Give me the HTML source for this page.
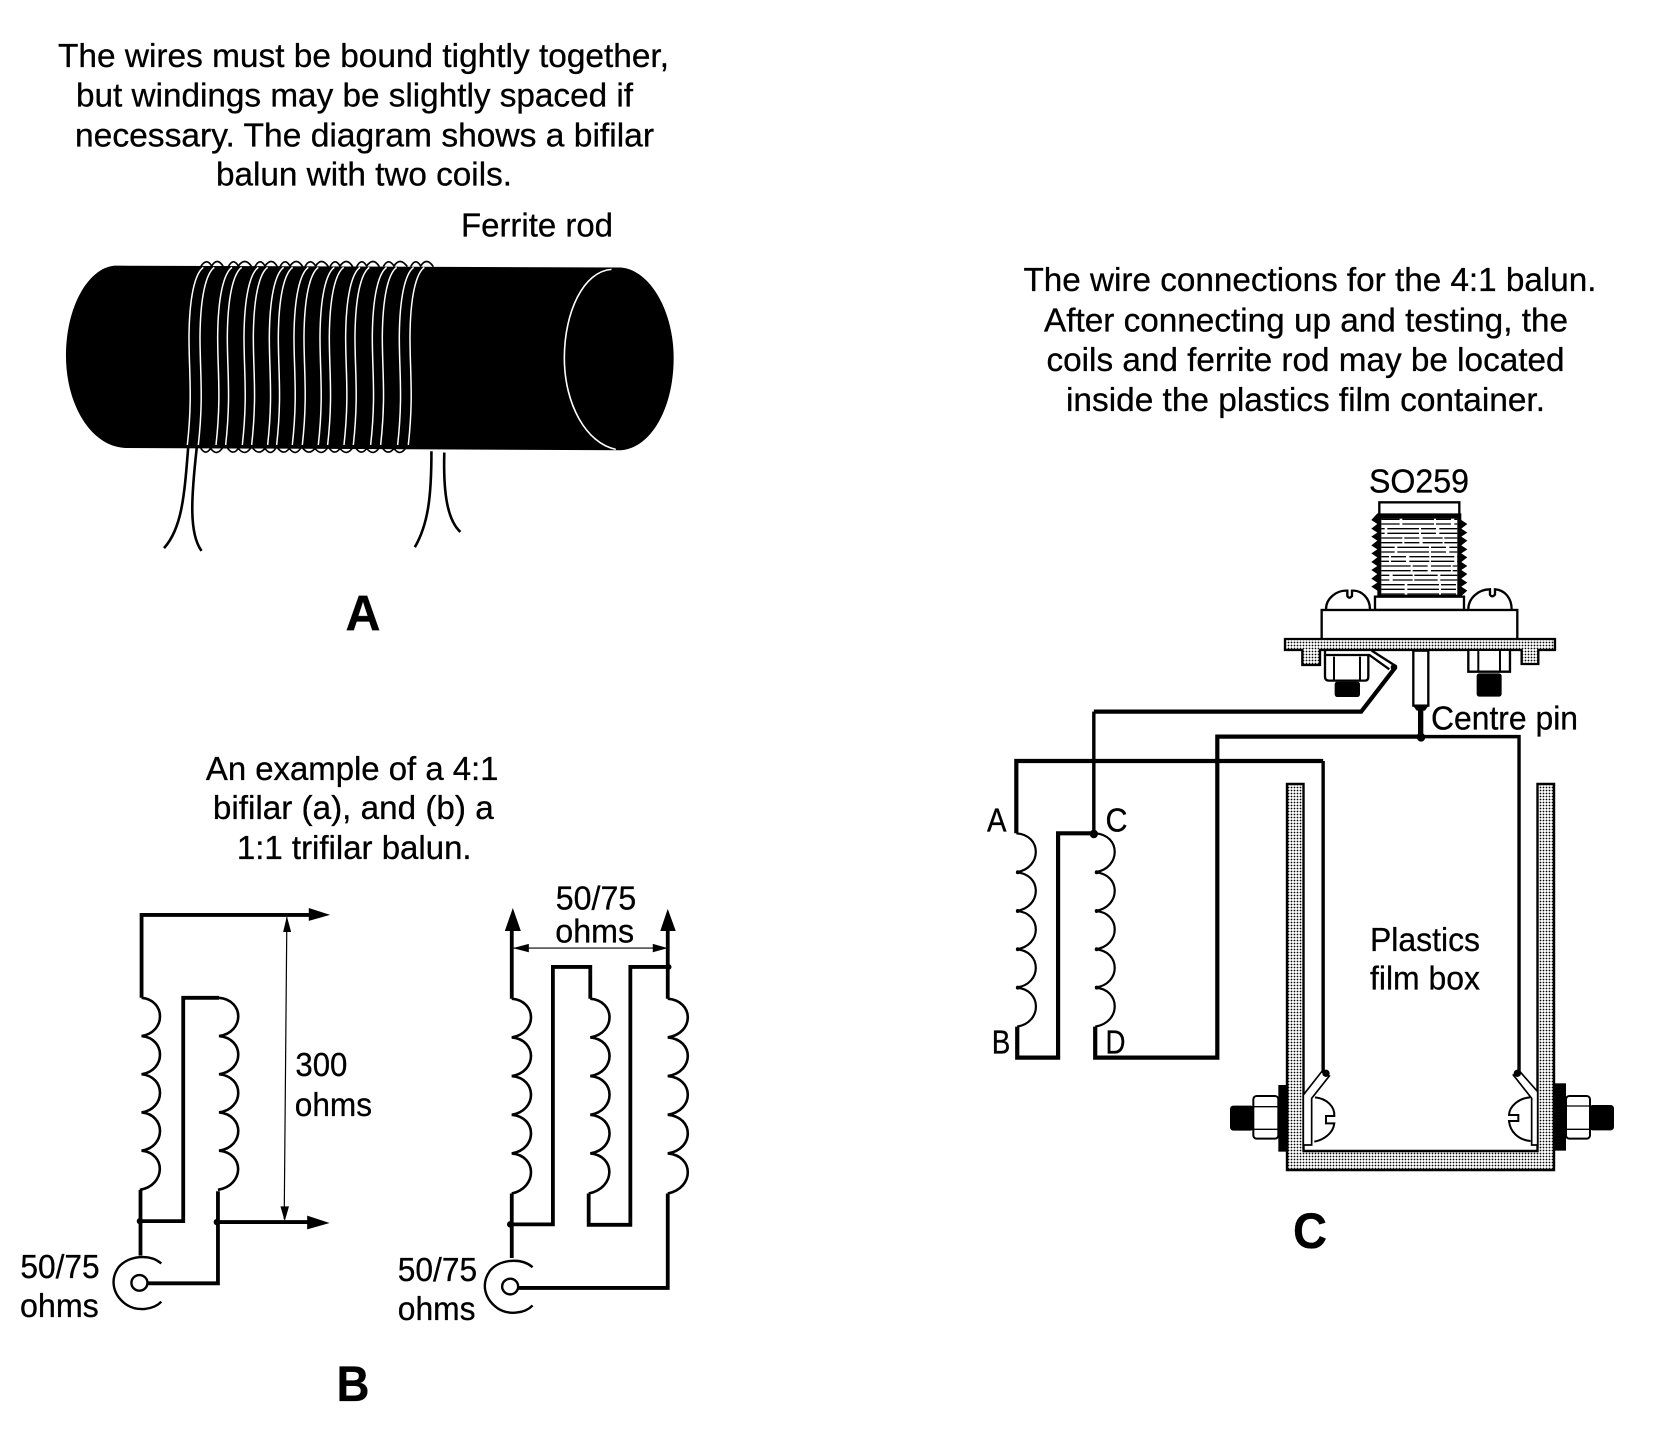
<!DOCTYPE html>
<html><head><meta charset="utf-8"><style>
html,body{margin:0;padding:0;background:#fff;overflow:hidden}
svg{display:block}
text{font-family:"Liberation Sans",sans-serif;fill:#000;stroke:#000;stroke-width:.3}
.n path{vector-effect:non-scaling-stroke}
.n ellipse{vector-effect:non-scaling-stroke}
</style></head><body>
<svg width="1676" height="1440" viewBox="0 0 1676 1440" xmlns="http://www.w3.org/2000/svg">
<defs>
<pattern id="st" width="3" height="3" patternUnits="userSpaceOnUse"><rect width="3" height="3" fill="#fff"/><circle cx="1.5" cy="1.5" r=".9" fill="#000"/></pattern>
<pattern id="st3" width="9" height="9" patternUnits="userSpaceOnUse"><rect width="9" height="9" fill="#fff"/><circle cx="4.5" cy="4.5" r="2.7" fill="#000"/></pattern>
<path id="w" d="M100 82C75 100 58 170 57 290C57 400 68 470 52 615" fill="none" stroke="#fff" stroke-width="4.5"/>
</defs>
<rect width="1676" height="1440" fill="#fff"/>

<!-- all text -->
<g font-size="33">
<text x="58" y="66.9" textLength="611" lengthAdjust="spacingAndGlyphs">The wires must be bound tightly together,</text>
<text x="76" y="106.5" textLength="557" lengthAdjust="spacingAndGlyphs">but windings may be slightly spaced if</text>
<text x="75" y="146.7" textLength="579" lengthAdjust="spacingAndGlyphs">necessary. The diagram shows a bifilar</text>
<text x="216" y="185.5" textLength="296" lengthAdjust="spacingAndGlyphs">balun with two coils.</text>
<text x="461" y="236.6" textLength="152" lengthAdjust="spacingAndGlyphs">Ferrite rod</text>
<text x="205.9" y="780" textLength="292.6" lengthAdjust="spacingAndGlyphs">An example of a 4:1</text>
<text x="212.9" y="819.1" textLength="280.8" lengthAdjust="spacingAndGlyphs">bifilar (a), and (b) a</text>
<text x="236.9" y="858.8" textLength="234.7" lengthAdjust="spacingAndGlyphs">1:1 trifilar balun.</text>
<text x="555.8" y="909.6" textLength="80.4" lengthAdjust="spacingAndGlyphs">50/75</text>
<text x="555.3" y="942.4" textLength="78.8" lengthAdjust="spacingAndGlyphs">ohms</text>
<text x="295.4" y="1076" textLength="52" lengthAdjust="spacingAndGlyphs">300</text>
<text x="294.8" y="1115.9" textLength="77.2" lengthAdjust="spacingAndGlyphs">ohms</text>
<text x="20.4" y="1278.2" textLength="79.3" lengthAdjust="spacingAndGlyphs">50/75</text>
<text x="20" y="1316.9" textLength="78.8" lengthAdjust="spacingAndGlyphs">ohms</text>
<text x="397.8" y="1281" textLength="79.3" lengthAdjust="spacingAndGlyphs">50/75</text>
<text x="397.8" y="1320" textLength="77.7" lengthAdjust="spacingAndGlyphs">ohms</text>
<text x="1023.5" y="290.8" textLength="573" lengthAdjust="spacingAndGlyphs">The wire connections for the 4:1 balun.</text>
<text x="1044" y="331.5" textLength="524" lengthAdjust="spacingAndGlyphs">After connecting up and testing, the</text>
<text x="1046.5" y="371" textLength="518" lengthAdjust="spacingAndGlyphs">coils and ferrite rod may be located</text>
<text x="1066" y="411" textLength="479" lengthAdjust="spacingAndGlyphs">inside the plastics film container.</text>
<text x="1369" y="492.7" textLength="100" lengthAdjust="spacingAndGlyphs">SO259</text>
<text x="1431" y="729.3" textLength="147" lengthAdjust="spacingAndGlyphs">Centre pin</text>
<text x="987" y="831.7" textLength="19.5" lengthAdjust="spacingAndGlyphs">A</text>
<text x="1105.5" y="831.7" textLength="22" lengthAdjust="spacingAndGlyphs">C</text>
<text x="991.8" y="1053.7" textLength="18.6" lengthAdjust="spacingAndGlyphs">B</text>
<text x="1105.5" y="1053.7" textLength="20" lengthAdjust="spacingAndGlyphs">D</text>
<text x="1370" y="951" textLength="110" lengthAdjust="spacingAndGlyphs">Plastics</text>
<text x="1370" y="989.5" textLength="110" lengthAdjust="spacingAndGlyphs">film box</text>
</g>
<g font-size="50" font-weight="bold">
<text x="345.5" y="630.5" textLength="35" lengthAdjust="spacingAndGlyphs">A</text>
<text x="336.5" y="1401" textLength="33" lengthAdjust="spacingAndGlyphs">B</text>
<text x="1293" y="1248" textLength="34" lengthAdjust="spacingAndGlyphs">C</text>
</g>

<!-- A rod -->
<g class="n" transform="translate(-.5,-2) scale(.5359,.4615)">
<path d="M215 580C165 585 124 670 124 775C124 880 170 972 235 975L1160 980C1215 975 1258 890 1258 780C1258 680 1215 590 1160 584Z" fill="#000"/>
<path d="M1142 588C1090 592 1054 680 1054 780C1054 880 1095 965 1150 978" fill="none" stroke="#fff" stroke-width="1.6"/>
<g fill="none" stroke="#000" stroke-width="2.6">
<path d="M352 975C345 1080 340 1150 307 1192"/>
<path d="M368 975C358 1080 353 1160 377 1198"/>
<path d="M806 982C806 1080 800 1140 775 1190"/>
<path d="M830 985C828 1070 835 1130 860 1157"/>
</g>
</g>
<g transform="translate(170,240) scale(.3333)">
<g fill="none" stroke="#000" stroke-width="5">
<path d="M92 80Q110 52 125 78Q142 50 160 80M175 80Q190 52 205 78Q225 50 245 80M255 80Q270 52 285 78Q305 50 322 80M330 80Q345 52 360 78Q380 50 398 80M405 80Q420 52 437 78Q455 50 475 80M480 80Q495 52 510 78Q530 50 548 80M560 80Q575 52 590 78Q610 50 628 80M640 80Q655 52 672 78Q690 50 712 80M722 80Q737 52 752 78Q770 50 790 80"/>
<path d="M90 620Q105 650 122 625Q140 652 160 620M170 620Q188 650 205 625Q225 652 245 620Q265 650 285 625Q303 652 320 620Q340 650 358 625Q377 652 395 620Q415 650 435 625Q455 652 475 620Q493 650 510 625Q530 652 550 620M555 620Q573 650 590 625Q610 652 630 620M635 620Q653 650 672 625Q690 652 710 620"/>
</g>
<use href="#w"/><use href="#w" x="33"/><use href="#w" x="86"/><use href="#w" x="115"/><use href="#w" x="165"/><use href="#w" x="193"/><use href="#w" x="241"/><use href="#w" x="268"/><use href="#w" x="315"/><use href="#w" x="345"/><use href="#w" x="393"/><use href="#w" x="421"/><use href="#w" x="470"/><use href="#w" x="498"/><use href="#w" x="550"/><use href="#w" x="580"/><use href="#w" x="631"/><use href="#w" x="663"/>
</g>

<!-- B -->
<g class="n" transform="translate(0,719.2) scale(.5342,.4605)">
<g fill="none" stroke="#000" stroke-width="2.6">
<path d="M265 605c46 5 46 75 0 83c46 5 46 75 0 83c46 5 46 75 0 83c46 5 46 75 0 83c46 5 46 75 -3 85"/>
<path d="M410 605c48 5 48 75 0 83c48 5 48 75 0 83c48 5 48 75 0 83c48 5 48 75 0 83c48 5 48 75 -2 85"/>
<path d="M958 607c48 5 48 75 0 84c48 5 48 75 0 84c48 5 48 75 0 84c48 5 48 75 0 84c48 5 48 75 0 87"/>
<path d="M1105 607c48 5 48 75 0 84c48 5 48 75 0 84c48 5 48 75 0 84c48 5 48 75 0 84c48 5 48 75 -3 87"/>
<path d="M1250 607c50 5 50 75 0 84c50 5 50 75 0 84c50 5 50 75 0 84c50 5 50 75 0 84c50 5 50 75 0 87"/>
</g>
<g fill="none" stroke="#000" stroke-width="3.8">
<path d="M265 605V425H585"/>
<path d="M410 605H343V1090H262"/>
<path d="M263 1022V1165"/>
<path d="M408 1025V1225H275"/>
<path d="M408 1092H585"/>
<path d="M958 607V450"/>
<path d="M958 1030V1170"/>
<path d="M1105 607V538H1035V1097H955"/>
<path d="M1102 1030V1098H1180V538H1252"/>
<path d="M1250 607V450"/>
<path d="M1250 1030V1235H970"/>
</g>
<polygon points="578,410 618,425 578,438"/><polygon points="575,1078 617,1094 575,1108"/>
<polygon points="945,460 975,460 960,410"/><polygon points="1236,460 1265,460 1250,412"/>
<ellipse cx="262" cy="1090" rx="6" ry="7"/><ellipse cx="406" cy="1092" rx="6" ry="7"/><ellipse cx="955" cy="1097" rx="6" ry="7"/><ellipse cx="1252" cy="538" rx="5" ry="6"/>
<path d="M537 430L532 1085" stroke="#000" stroke-width="1.2" fill="none"/>
<polygon points="537,428 530,462 545,462"/><polygon points="533,1090 525,1058 541,1058"/>
<path d="M960 497H1250" stroke="#000" stroke-width="1.2" fill="none"/>
<polygon points="960,497 990,488 990,506"/><polygon points="1250,497 1222,488 1222,506"/>
<g fill="none" stroke="#000" stroke-width="2.4">
<ellipse cx="261" cy="1224" rx="15" ry="17"/>
<path d="M302 1182C280 1160 240 1165 222 1190C205 1218 212 1250 235 1270C257 1288 288 1282 302 1265"/>
<ellipse cx="955" cy="1232" rx="15" ry="17"/>
<path d="M997 1190C975 1168 935 1173 917 1198C900 1226 907 1258 930 1278C952 1296 983 1290 997 1273"/>
</g>
</g>

<!-- C box (real px) -->
<path d="M1287 784H1303.5V1151H1537.5V784H1554V1170H1287Z" fill="url(#st)" stroke="#000" stroke-width="2.4"/>

<!-- C wires -->
<g class="n" transform="translate(949,440) scale(.4642,.3333)">
<g fill="none" stroke="#000" stroke-width="2.2">
<path d="M145 1180c56 5 56 105 0 117c56 5 56 105 0 116c56 5 56 105 0 115c56 5 56 105 0 115c56 5 56 105 2 117"/>
<path d="M315 1180c56 5 56 105 0 117c56 5 56 105 0 116c56 5 56 105 0 115c56 5 56 105 0 115c56 5 56 105 0 117"/>
</g>
<g fill="none" stroke="#000" stroke-width="4.2">
<path d="M147 1760V1853H235V1180H312"/>
<path d="M315 1760V1853H578V890H1015"/>
<path d="M145 1180V963H806"/>
<path d="M312 815H888L960 685"/>
</g>
<g fill="none" stroke="#000" stroke-width="3.4">
<path d="M312 1180V815"/><path d="M806 963V1895"/><path d="M1015 890H1228V1895"/>
<path d="M1017 812V890"/>
</g>
<ellipse cx="312" cy="1182" rx="9" ry="13"/><ellipse cx="1017" cy="892" rx="9" ry="13"/>
<ellipse cx="148" cy="1297" rx="4" ry="6"/><ellipse cx="148" cy="1413" rx="4" ry="6"/><ellipse cx="148" cy="1528" rx="4" ry="6"/><ellipse cx="148" cy="1643" rx="4" ry="6"/>
<ellipse cx="318" cy="1297" rx="4" ry="6"/><ellipse cx="318" cy="1413" rx="4" ry="6"/><ellipse cx="318" cy="1528" rx="4" ry="6"/><ellipse cx="318" cy="1643" rx="4" ry="6"/>
</g>

<!-- SO259 connector -->
<g transform="translate(1260,470) scale(.3333)">
<g fill="#fff" stroke="#000" stroke-width="7">
<path d="M198 418C198 385 230 360 262 362V378Q268 388 276 378V362C305 360 330 385 330 418"/>
<path d="M625 418C625 385 655 358 690 358V374Q695 384 705 374V358C735 360 755 385 755 418"/>
<rect x="358" y="97" width="240" height="38"/>
<rect x="345" y="380" width="267" height="40"/>
<rect x="185" y="420" width="587" height="88"/>
</g>
<path d="M352 130H604V150L622 162L604 176L622 188L604 200L622 212L604 226L622 238L604 250L622 262L604 276L622 288L604 300L622 312L604 326L622 338L604 350L622 362L604 378H352V362L334 350L352 338L334 326L352 312L334 300L352 288L334 276L352 262L334 250L352 238L334 226L352 212L334 200L352 188L334 176L352 162L334 150Z" fill="#000"/>
<rect x="364" y="146" width="228" height="228" fill="#fff"/>
<g stroke="#000" stroke-width="4" stroke-dasharray="70 8 95 6 45 10 60 5">
<path d="M364 148H592M364 162H592" stroke-dashoffset="15"/>
<path d="M364 176H592M364 190H592" stroke-dashoffset="60"/>
<path d="M364 204H592M364 218H592" stroke-dashoffset="110"/>
<path d="M364 232H592M364 246H592" stroke-dashoffset="30"/>
<path d="M364 260H592M364 274H592" stroke-dashoffset="150"/>
<path d="M364 288H592M364 302H592" stroke-dashoffset="85"/>
<path d="M364 316H592M364 330H592" stroke-dashoffset="200"/>
<path d="M364 344H592M364 358H592M364 372H592"/>
</g>
<g fill="url(#st3)" stroke="#000" stroke-width="7">
<path d="M75 507H885V540H835V582H785V540H180V585H127V540H75Z"/>
</g>
<g fill="#fff" stroke="#000" stroke-width="7">
<path d="M195 555V620Q195 632 207 632H315Q325 632 325 620V555"/>
<path d="M625 543V605H750V543"/>
<rect x="460" y="542" width="45" height="165"/>
</g>
<g fill="none" stroke="#000" stroke-width="6"><path d="M222 560V630M300 560V630M655 543V605M720 543V605"/></g>
<rect x="224" y="635" width="76" height="46" rx="8"/>
<rect x="650" y="610" width="75" height="70" rx="8"/>
<path d="M195 542V555H328L388 598" fill="none" stroke="#000" stroke-width="7"/>
<path d="M335 542L410 590" fill="none" stroke="#000" stroke-width="7"/>
<circle cx="402" cy="592" r="10"/>
<polygon points="458,705 507,705 495,722 470,722"/>
<rect x="474" y="715" width="16" height="85"/>
<circle cx="482" cy="800" r="12"/>
</g>

<!-- Left hardware -->
<g transform="translate(1220,1040) scale(.3333)">
<rect x="175" y="135" width="30" height="200"/>
<rect x="30" y="197" width="72" height="75" rx="10"/>
<rect x="100" y="168" width="75" height="128" rx="10" fill="#fff" stroke="#000" stroke-width="6"/>
<path d="M100 200H175M100 268H175" stroke="#000" stroke-width="4" fill="none"/>
<path d="M285 172C320 175 345 200 343 228H318V250H343C340 280 310 300 283 305" fill="#fff" stroke="#000" stroke-width="6"/>
<path d="M250 165L305 95L328 108L275 175V315H250Z" fill="#fff" stroke="#000" stroke-width="5"/>
<circle cx="318" cy="100" r="11"/>
</g>
<!-- Right hardware -->
<g transform="translate(1460,1040) scale(.3333)">
<rect x="283" y="130" width="35" height="202"/>
<rect x="388" y="195" width="74" height="76" rx="10"/>
<rect x="318" y="168" width="72" height="128" rx="10" fill="#fff" stroke="#000" stroke-width="6"/>
<path d="M318 198H390M318 268H390" stroke="#000" stroke-width="4" fill="none"/>
<path d="M210 172C175 175 148 200 147 225H175V243H147C150 275 175 300 212 303" fill="#fff" stroke="#000" stroke-width="6"/>
<path d="M233 155L180 95L160 105L215 175V315H233Z" fill="#fff" stroke="#000" stroke-width="5"/>
<circle cx="172" cy="100" r="11"/>
</g>
</svg>
</body></html>
